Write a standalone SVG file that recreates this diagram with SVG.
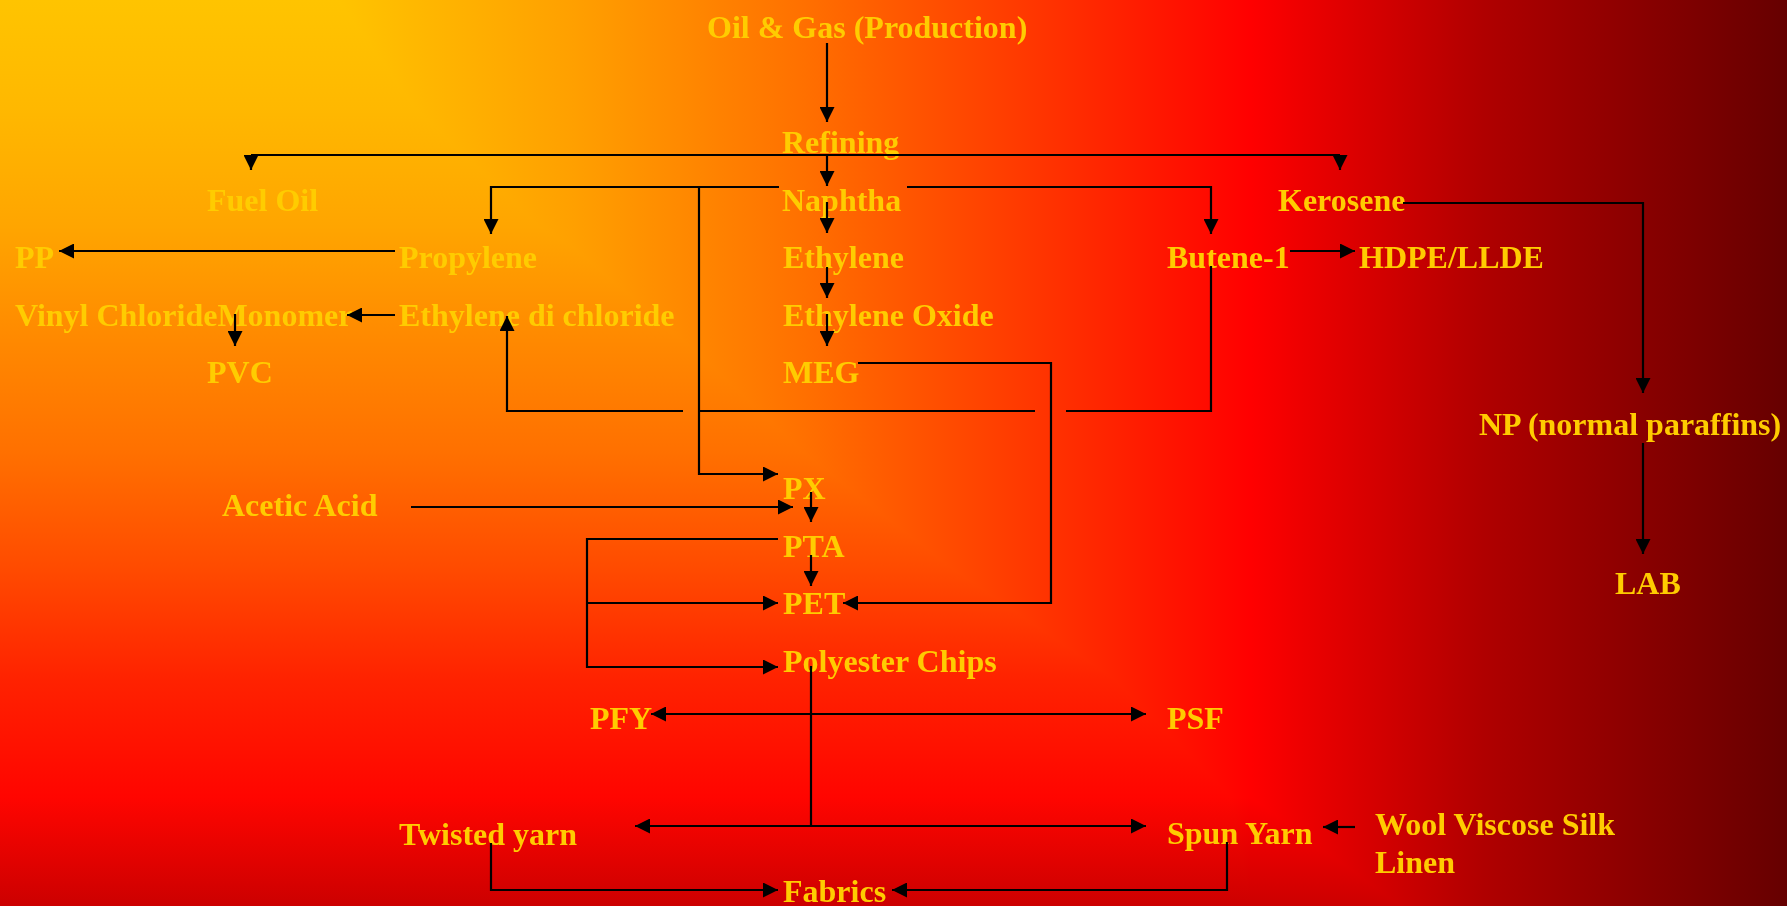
<svg xmlns="http://www.w3.org/2000/svg" width="1787" height="906" viewBox="0 0 1787 906">
<defs>
<linearGradient id="gx" x1="0" y1="0" x2="1787" y2="0" gradientUnits="userSpaceOnUse">
<stop offset="0" stop-color="#FFC400"/>
<stop offset="0.16" stop-color="#FFCC00"/>
<stop offset="0.32" stop-color="#FFA000"/>
<stop offset="0.45" stop-color="#FF7000"/>
<stop offset="0.57" stop-color="#FF3A00"/>
<stop offset="0.70" stop-color="#FF0000"/>
<stop offset="0.83" stop-color="#B00000"/>
<stop offset="1" stop-color="#660000"/>
</linearGradient>
<linearGradient id="gy" x1="0" y1="0" x2="0" y2="906" gradientUnits="userSpaceOnUse">
<stop offset="0" stop-color="#FFC400"/>
<stop offset="0.12" stop-color="#FFB800"/>
<stop offset="0.25" stop-color="#FFA500"/>
<stop offset="0.38" stop-color="#FF8800"/>
<stop offset="0.5" stop-color="#FF7000"/>
<stop offset="0.63" stop-color="#FF4A00"/>
<stop offset="0.75" stop-color="#FF2200"/>
<stop offset="0.88" stop-color="#FF0500"/>
<stop offset="1" stop-color="#CC0000"/>
</linearGradient>
<marker id="ah" markerUnits="userSpaceOnUse" markerWidth="15" markerHeight="15" refX="15" refY="7.5" orient="auto-start-reverse" viewBox="0 0 15 15">
<path d="M0,0 L15,7.5 L0,15 Z" fill="#000"/>
</marker>
<style>
.t{font-family:"Liberation Serif","Times New Roman",serif;font-weight:bold;font-size:32px;fill:#FFCC00}
.c{fill:none;stroke:#000;stroke-width:2.2}
.a{marker-end:url(#ah)}
.b{marker-start:url(#ah);marker-end:url(#ah)}
</style>
</defs>
<g id="background">
<rect width="1787" height="906" fill="url(#gx)"/>
<rect width="1787" height="906" fill="url(#gy)" style="mix-blend-mode:darken"/>
</g>
<g id="nodes">
<g id="oilgas"><text class="t" x="707" y="38">Oil &amp; Gas (Production)</text></g>
<g id="refining"><text class="t" x="782" y="153">Refining</text></g>
<g id="fueloil"><text class="t" x="207" y="211">Fuel Oil</text></g>
<g id="naphtha"><text class="t" x="782" y="211">Naphtha</text></g>
<g id="kerosene"><text class="t" x="1278" y="211">Kerosene</text></g>
<g id="pp"><text class="t" x="15" y="268">PP</text></g>
<g id="propylene"><text class="t" x="399" y="268">Propylene</text></g>
<g id="ethylene"><text class="t" x="783" y="268">Ethylene</text></g>
<g id="butene"><text class="t" x="1167" y="268">Butene-1</text></g>
<g id="hdpe"><text class="t" x="1359" y="268">HDPE/LLDE</text></g>
<g id="vcm"><text class="t" x="15" y="326">Vinyl ChlorideMonomer</text></g>
<g id="edc"><text class="t" x="399" y="326">Ethylene di chloride</text></g>
<g id="eo"><text class="t" x="783" y="326">Ethylene Oxide</text></g>
<g id="pvc"><text class="t" x="207" y="383">PVC</text></g>
<g id="meg"><text class="t" x="783" y="383">MEG</text></g>
<g id="np"><text class="t" x="1479" y="435">NP (normal paraffins)</text></g>
<g id="px"><text class="t" x="783" y="499">PX</text></g>
<g id="acetic"><text class="t" x="222" y="516">Acetic Acid</text></g>
<g id="pta"><text class="t" x="783" y="557">PTA</text></g>
<g id="lab"><text class="t" x="1615" y="594">LAB</text></g>
<g id="pet"><text class="t" x="783" y="614">PET</text></g>
<g id="chips"><text class="t" x="783" y="672">Polyester Chips</text></g>
<g id="pfy"><text class="t" x="590" y="729">PFY</text></g>
<g id="psf"><text class="t" x="1167" y="729">PSF</text></g>
<g id="twisted"><text class="t" x="399" y="845">Twisted yarn</text></g>
<g id="spun"><text class="t" x="1167" y="844">Spun Yarn</text></g>
<g id="wool"><text class="t" x="1375" y="835">Wool Viscose Silk</text><text class="t" x="1375" y="873">Linen</text></g>
<g id="fabrics"><text class="t" x="783" y="902">Fabrics</text></g>
</g>
<g id="connectors">
<path class="c a" d="M827,43 V122"/>
<path class="c" d="M251,155 H1340"/>
<path class="c a" d="M251,155 V170"/>
<path class="c a" d="M1340,155 V170"/>
<path class="c a" d="M827,155 V186"/>
<path class="c a" d="M779,187 H491 V234"/>
<path class="c a" d="M699,187 V474 H778"/>
<path class="c a" d="M907,187 H1211 V234"/>
<path class="c a" d="M827,202 V233"/>
<path class="c a" d="M827,267 V298"/>
<path class="c a" d="M827,314 V346"/>
<path class="c a" d="M395,251 H59"/>
<path class="c a" d="M395,315 H347"/>
<path class="c a" d="M235,314 V346"/>
<path class="c a" d="M683,411 H507 V316"/>
<path class="c" d="M699,411 H1035"/>
<path class="c" d="M1066,411 H1211 V266"/>
<path class="c a" d="M858,363 H1051 V603 H843"/>
<path class="c a" d="M1290,251 H1355"/>
<path class="c a" d="M1403,203 H1643 V393"/>
<path class="c a" d="M1643,443 V554"/>
<path class="c a" d="M411,507 H793"/>
<path class="c a" d="M811,492 V522"/>
<path class="c a" d="M811,555 V586"/>
<path class="c a" d="M778,539 H587 V667 H778"/>
<path class="c a" d="M587,603 H778"/>
<path class="c" d="M811,666 V826"/>
<path class="c b" d="M651,714 H1146"/>
<path class="c b" d="M635,826 H1146"/>
<path class="c a" d="M491,843 V890 H778"/>
<path class="c a" d="M1227,842 V890 H892"/>
<path class="c a" d="M1355,827 H1323"/>
</g>
</svg>
